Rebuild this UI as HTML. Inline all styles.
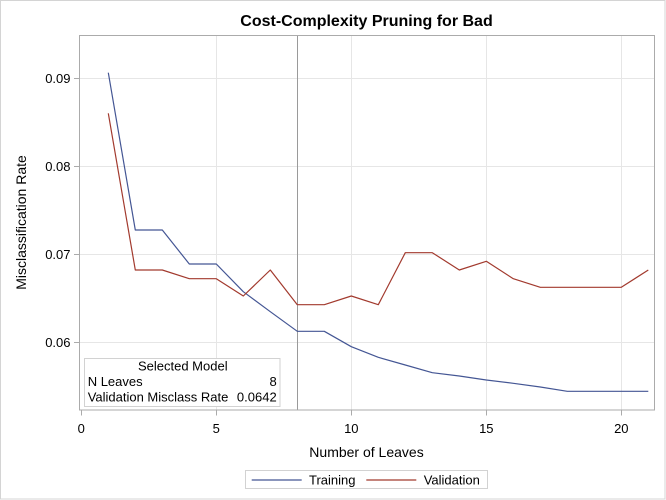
<!DOCTYPE html>
<html>
<head>
<meta charset="utf-8">
<style>
  html,body{margin:0;padding:0;background:#fff;}
  svg{display:block;}
  text{font-family:"Liberation Sans", Arial, sans-serif;fill:#000;}
</style>
</head>
<body>
<svg width="666" height="500" viewBox="0 0 666 500" xmlns="http://www.w3.org/2000/svg">
  <rect x="0.5" y="0.5" width="664.5" height="498.5" fill="#fff" stroke="#d4d4d4" stroke-width="1"/>

  <text x="366.5" y="26" font-size="16" font-weight="bold" text-anchor="middle">Cost-Complexity Pruning for Bad</text>

  <!-- gridlines -->
  <g stroke="#e6e6e6" stroke-width="1">
    <line x1="80" y1="78.5" x2="654" y2="78.5"/>
    <line x1="80" y1="166.5" x2="654" y2="166.5"/>
    <line x1="80" y1="254.5" x2="654" y2="254.5"/>
    <line x1="80" y1="342.5" x2="654" y2="342.5"/>
    <line x1="216.5" y1="36" x2="216.5" y2="410"/>
    <line x1="351.5" y1="36" x2="351.5" y2="410"/>
    <line x1="486.5" y1="36" x2="486.5" y2="410"/>
    <line x1="621.5" y1="36" x2="621.5" y2="410"/>
  </g>

  <!-- reference line -->
  <line x1="297.5" y1="36" x2="297.5" y2="410" stroke="#9a9a9a" stroke-width="1"/>

  <!-- inset box -->
  <rect x="84.5" y="358.5" width="195.5" height="48" fill="#fff" stroke="#d2d2d2" stroke-width="1"/>
  <text x="182.8" y="370.7" font-size="13" text-anchor="middle">Selected Model</text>
  <text x="87.7" y="386" font-size="13">N Leaves</text>
  <text x="276.7" y="386" font-size="13" text-anchor="end">8</text>
  <text x="87.7" y="401.7" font-size="13">Validation Misclass Rate</text>
  <text x="276.7" y="401.7" font-size="13" text-anchor="end">0.0642</text>

  <!-- series -->
  <polyline fill="none" stroke="#445694" stroke-width="1.2" stroke-linejoin="round"
    points="108.3,72.7 135.3,230 162.3,230 189.3,264 216.3,264 243.3,291.7 270.3,311.7 297.3,331.3 324.3,331.3 351.3,346.7 378.3,357.3 405.3,365 432.3,372.7 459.3,376 486.3,380 513.3,383.3 540.3,387 567.3,391.3 594.3,391.3 621.3,391.3 648.3,391.3"/>
  <polyline fill="none" stroke="#A23A2E" stroke-width="1.2" stroke-linejoin="round"
    points="108.3,113.3 135.3,270 162.3,270 189.3,278.7 216.3,278.7 243.3,296 270.3,270 297.3,304.7 324.3,304.7 351.3,296 378.3,304.7 405.3,252.7 432.3,252.7 459.3,270 486.3,261.3 513.3,278.7 540.3,287.3 567.3,287.3 594.3,287.3 621.3,287.3 648.3,270"/>

  <!-- frame -->
  <rect x="79.5" y="35.5" width="575" height="374.5" fill="none" stroke="#ababab" stroke-width="1"/>

  <!-- ticks -->
  <g stroke="#ababab" stroke-width="1">
    <line x1="74" y1="78.5" x2="79.5" y2="78.5"/>
    <line x1="74" y1="166.5" x2="79.5" y2="166.5"/>
    <line x1="74" y1="254.5" x2="79.5" y2="254.5"/>
    <line x1="74" y1="342.5" x2="79.5" y2="342.5"/>
    <line x1="81.5" y1="410" x2="81.5" y2="415.5"/>
    <line x1="216.5" y1="410" x2="216.5" y2="415.5"/>
    <line x1="351.5" y1="410" x2="351.5" y2="415.5"/>
    <line x1="486.5" y1="410" x2="486.5" y2="415.5"/>
    <line x1="621.5" y1="410" x2="621.5" y2="415.5"/>
  </g>

  <!-- y tick labels -->
  <g font-size="13" text-anchor="end">
    <text x="70.5" y="83">0.09</text>
    <text x="70.5" y="171">0.08</text>
    <text x="70.5" y="259">0.07</text>
    <text x="70.5" y="347">0.06</text>
  </g>
  <!-- x tick labels -->
  <g font-size="13" text-anchor="middle">
    <text x="81.3" y="433">0</text>
    <text x="216.3" y="433">5</text>
    <text x="351.3" y="433">10</text>
    <text x="486.3" y="433">15</text>
    <text x="621.3" y="433">20</text>
  </g>

  <text x="366.5" y="457" font-size="14" text-anchor="middle">Number of Leaves</text>
  <text transform="translate(26,222.5) rotate(-90)" font-size="14" text-anchor="middle">Misclassification Rate</text>

  <!-- legend -->
  <rect x="245.5" y="470.5" width="242" height="18" fill="#fff" stroke="#d2d2d2" stroke-width="1"/>
  <line x1="251.7" y1="480" x2="301.7" y2="480" stroke="#445694" stroke-width="1.2"/>
  <text x="309" y="484.5" font-size="13">Training</text>
  <line x1="366.3" y1="480" x2="416.3" y2="480" stroke="#A23A2E" stroke-width="1.2"/>
  <text x="423.7" y="484.5" font-size="13">Validation</text>
</svg>
</body>
</html>
